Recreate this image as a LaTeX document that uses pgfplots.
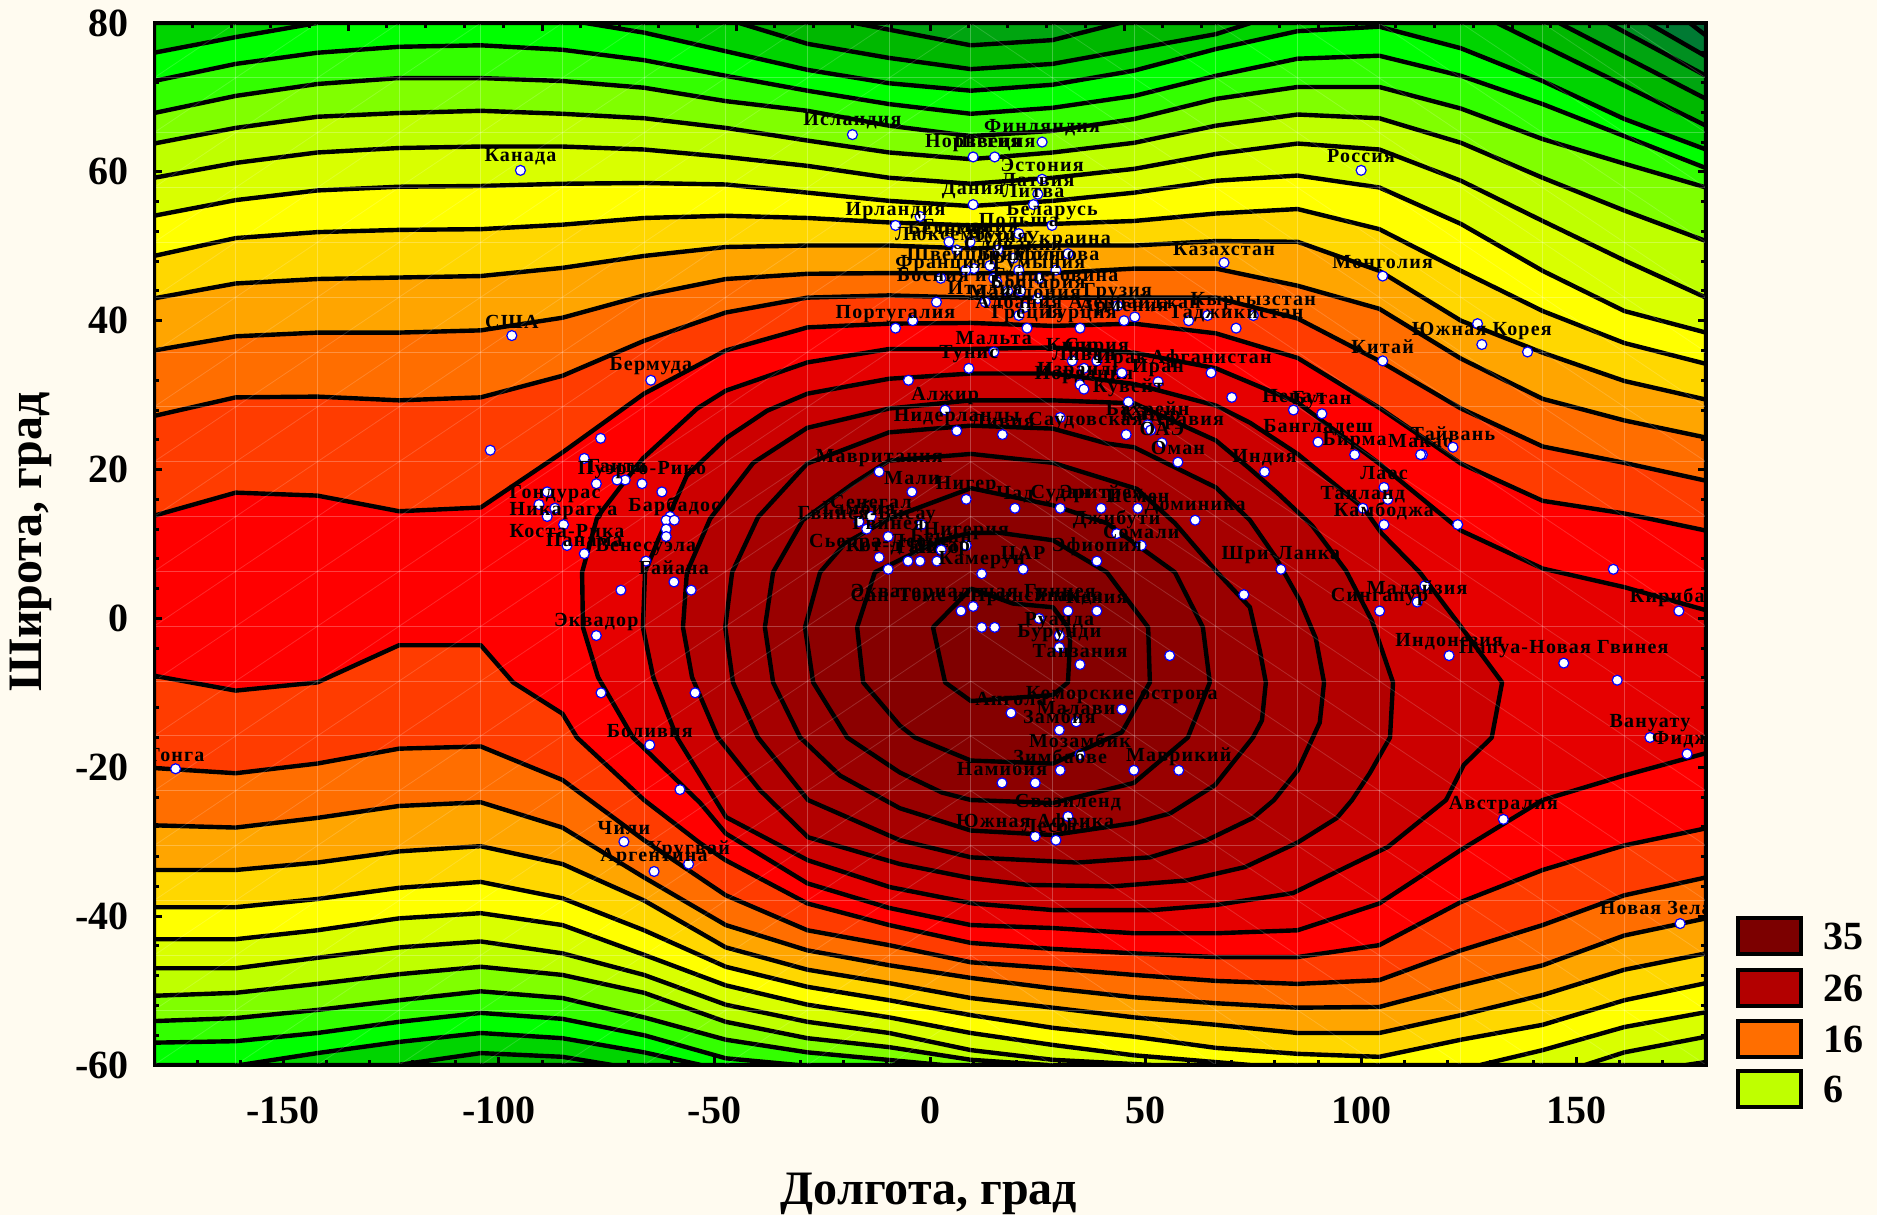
\documentclass[border=0pt]{standalone}
\usepackage{fontspec}
\usepackage{pgfplots}
\pgfplotsset{compat=1.18}
\setmainfont{Liberation Serif}
\newfontfamily\labfont[LetterSpace=6]{Liberation Serif}
\definecolor{pg}{HTML}{FFFBF0}
\definecolor{c00}{HTML}{006633}\definecolor{c01}{HTML}{007A33}\definecolor{c02}{HTML}{008F20}
\definecolor{c03}{HTML}{00A510}\definecolor{c04}{HTML}{00B800}\definecolor{c05}{HTML}{00D400}
\definecolor{c06}{HTML}{00FF00}\definecolor{c07}{HTML}{33FF00}\definecolor{c08}{HTML}{80FF00}
\definecolor{c09}{HTML}{BFFF00}\definecolor{c10}{HTML}{D9FF00}\definecolor{c11}{HTML}{FFFF00}
\definecolor{c12}{HTML}{FFD700}\definecolor{c13}{HTML}{FFA500}\definecolor{c14}{HTML}{FF6E00}
\definecolor{c15}{HTML}{FF3C00}\definecolor{c16}{HTML}{FF0000}\definecolor{c17}{HTML}{E60000}
\definecolor{c18}{HTML}{CC0000}\definecolor{c19}{HTML}{B30000}\definecolor{c20}{HTML}{A60000}
\definecolor{c21}{HTML}{990000}\definecolor{c22}{HTML}{8C0000}\definecolor{c23}{HTML}{850000}
\definecolor{c24}{HTML}{800000}
\pgfplotsset{band/.style={fill=#1,draw=black,line width=2.2pt,line join=round,forget plot,mark=none}}
\begin{document}
\begin{tikzpicture}
\path[use as bounding box,fill=pg] (0,0) rectangle (938.5pt,607.5pt);
\begin{axis}[
 at={(77pt,75pt)},anchor=south west,scale only axis,width=776pt,height=521pt,
 xmin=-180,xmax=180,ymin=-60,ymax=80,
 axis on top,axis line style={line width=1.5pt},
 tick align=inside,
 major tick length=4pt,minor tick length=2.4pt,
 every tick/.style={black,line width=1.5pt},
 xtick pos=bottom,
 xtick={-150,-100,-50,0,50,100,150},xticklabels={-150,-100,-50,0,50,100,150},
 minor xtick={-170,-160,-140,-130,-120,-110,-90,-80,-70,-60,-40,-30,-20,-10,10,20,30,40,60,70,80,90,110,120,130,140,160,170},
 ytick={-60,-40,-20,0,20,40,60,80},yticklabels={-60,-40,-20,0,20,40,60,80},
 minor ytick={-56,-52,-48,-44,-36,-32,-28,-24,-16,-12,-8,-4,4,8,12,16,24,28,32,36,44,48,52,56,64,68,72,76},
 ticklabel style={font=\fontsize{20}{20}\selectfont\bfseries},
 xticklabel style={yshift=-12.5pt},yticklabel style={xshift=-9pt},
 clip marker paths=true,
]
\addplot[band=c00] coordinates {(-180,-60)(-180,80)(180,80)(180,-60)} --cycle;
\addplot[band=c01] coordinates {(-180,-60)(-180,80)(176.2,80)(180,78.3)(180,-60)} --cycle;
\addplot[band=c02] coordinates {(-180,-60)(-180,80)(166.5,80)(180,75.5)(180,-60)} --cycle;
\addplot[band=c03] coordinates {(-180,-60)(-180,80)(157.2,80)(180,72.9)(180,-60)} --cycle;
\addplot[band=c04] coordinates {(-180,-60)(-180,80)(-17.6,80)(9.47,77.0)(28.42,77.7)(44.1,80)(145.9,80)(180,69.8)(180,-60)} --cycle;
\addplot[band=c05] coordinates {(-180,-60)(-180,80)(-44.3,80)(-28.42,77.2)(-9.47,75.3)(9.47,73.8)(28.42,74.5)(47.37,76.5)(66.32,78.5)(74.4,80)(131.5,80)(180,66.2)(180,-60)(-73.7,-60)(-85.26,-58.9)(-104.21,-58.4)(-123.4,-60)} --cycle;
% A
\addplot[band=c06] coordinates {(-180,76.0)(-161.05,78.1)(-142.11,80)(-80,80)(-66.32,78.7)(-47.37,76.2)(-28.42,73.7)(-9.47,71.9)(9.47,70.9)(28.42,71.7)(47.37,73.6)(66.32,76.5)(85.26,78.9)(104.21,79.5)(123.16,76.6)(142.11,72.2)(161.05,67.1)(180,63.0)(180,-60)(-53.1,-60)(-66.32,-58.3)(-85.26,-56.4)(-104.21,-55.7)(-123.16,-56.9)(-142.11,-58.4)(-160,-60)(-180,-60)} --cycle;
% B
\addplot[band=c07] coordinates {(-180,72.2)(-161.05,74.5)(-142.11,76.0)(-123.16,76.8)(-104.21,77.0)(-85.26,76.4)(-66.32,75.0)(-47.37,72.9)(-28.42,70.9)(-9.47,69.1)(9.47,67.8)(28.42,68.6)(47.37,70.2)(66.32,72.9)(85.26,75.2)(104.21,75.6)(123.16,72.9)(142.11,69.1)(161.05,64.8)(180,60.5)(180,-60)(-30.6,-60)(-47.37,-59.1)(-66.32,-56.0)(-85.26,-53.8)(-104.21,-53.0)(-123.16,-54.2)(-142.11,-55.7)(-161.05,-56.8)(-180,-57.0)} --cycle;
% C
\addplot[band=c08] coordinates {(-180,67.9)(-161.05,70.2)(-142.11,71.8)(-123.16,72.6)(-104.21,72.6)(-85.26,72.2)(-66.32,71.3)(-47.37,69.5)(-28.42,68.2)(-9.47,66.2)(9.47,64.8)(28.42,65.5)(47.37,67.1)(66.32,69.8)(85.26,71.4)(104.21,71.4)(123.16,68.5)(142.11,64.4)(161.05,61.1)(180,57.9)(180,-60)(3,-60)(-28.42,-58.3)(-47.37,-56.6)(-66.32,-53.6)(-85.26,-51.0)(-104.21,-50.1)(-123.16,-51.3)(-142.11,-52.6)(-161.05,-53.7)(-180,-54.1)} --cycle;
% D
\addplot[band=c09] coordinates {(-180,63.8)(-161.05,65.9)(-142.11,67.4)(-123.16,67.9)(-104.21,68.2)(-85.26,67.8)(-66.32,67.2)(-47.37,65.9)(-28.42,64.2)(-9.47,62.6)(9.47,61.7)(28.42,62.6)(47.37,63.9)(66.32,66.2)(85.26,67.7)(104.21,67.2)(123.16,63.9)(142.11,59.2)(161.05,54.8)(180,50.7)(180,-59.6)(175.3,-60)(27.4,-60)(9.47,-59.3)(-9.47,-57.6)(-28.42,-56.4)(-47.37,-54.2)(-66.32,-50.3)(-85.26,-47.9)(-104.21,-46.8)(-123.16,-47.8)(-142.11,-49.1)(-161.05,-50.3)(-180,-50.7)} --cycle;
% E
\addplot[band=c10] coordinates {(-180,59.2)(-161.05,61.2)(-142.11,62.6)(-123.16,63.2)(-104.21,63.4)(-85.26,63.4)(-66.32,63.0)(-47.37,62.0)(-28.42,60.8)(-9.47,59.2)(9.47,58.4)(28.42,59.2)(47.37,60.4)(66.32,62.4)(85.26,63.8)(104.21,63.0)(123.16,58.8)(142.11,53.4)(161.05,48.1)(180,43.1)(180,-56.2)(161.05,-58.3)(151.9,-60)(51.5,-60)(28.42,-59.3)(9.47,-58.0)(-9.47,-55.7)(-28.42,-54.2)(-47.37,-51.9)(-66.32,-47.9)(-85.26,-45.0)(-104.21,-43.4)(-123.16,-44.2)(-142.11,-45.6)(-161.05,-47.0)(-180,-47.0)} --cycle;
% F
\addplot[band=c11] coordinates {(-180,54.1)(-161.05,56.2)(-142.11,57.5)(-123.16,58.0)(-104.21,58.1)(-85.26,58.4)(-66.32,58.5)(-47.37,58.3)(-28.42,57.2)(-9.47,56.1)(9.47,55.4)(28.42,56.1)(47.37,57.2)(66.32,58.8)(85.26,59.5)(104.21,57.9)(123.16,53.0)(142.11,46.7)(161.05,41.3)(180,38.4)(180,-52.9)(161.05,-54.9)(142.11,-58.0)(127.6,-60)(74.4,-60)(47.37,-58.7)(28.42,-57.3)(9.47,-55.7)(-9.47,-53.6)(-28.42,-51.9)(-47.37,-49.3)(-66.32,-45.2)(-85.26,-41.2)(-104.21,-39.6)(-123.16,-40.3)(-142.11,-41.9)(-161.05,-43.1)(-180,-43.1)} --cycle;
% G
\addplot[band=c12] coordinates {(-180,48.7)(-161.05,51.1)(-142.11,51.9)(-123.16,52.2)(-104.21,52.3)(-85.26,52.9)(-66.32,53.8)(-47.37,54.1)(-28.42,53.8)(-9.47,53.2)(9.47,52.8)(28.42,53.0)(47.37,53.4)(66.32,54.4)(85.26,55.0)(104.21,52.3)(123.16,46.7)(142.11,41.3)(161.05,37.0)(180,34.2)(180,-49.0)(161.05,-51.3)(142.11,-54.6)(123.16,-56.6)(104.21,-58.9)(85.26,-58.5)(66.32,-57.7)(47.37,-56.2)(28.42,-55.0)(9.47,-53.3)(-9.47,-51.3)(-28.42,-49.5)(-47.37,-46.8)(-66.32,-41.9)(-85.26,-37.6)(-104.21,-35.4)(-123.16,-36.2)(-142.11,-37.7)(-161.05,-38.8)(-180,-38.8)} --cycle;
% H
\addplot[band=c13] coordinates {(-180,43.0)(-161.05,45.0)(-142.11,45.6)(-123.16,45.8)(-104.21,46.0)(-85.26,47.1)(-66.32,48.7)(-47.37,49.9)(-28.42,50.1)(-9.47,50.1)(9.47,49.7)(28.42,50.1)(47.37,50.1)(66.32,50.7)(85.26,50.6)(104.21,46.7)(123.16,40.0)(142.11,35.7)(161.05,31.9)(180,29.4)(180,-45.0)(161.05,-47.2)(142.11,-50.6)(123.16,-53.3)(104.21,-55.7)(85.26,-55.7)(66.32,-54.6)(47.37,-53.6)(28.42,-52.3)(9.47,-51.0)(-9.47,-49.0)(-28.42,-47.2)(-47.37,-44.2)(-66.32,-37.9)(-85.26,-33.0)(-104.21,-30.6)(-123.16,-31.3)(-142.11,-32.8)(-161.05,-33.8)(-180,-33.8)} --cycle;
% I
\addplot[band=c14] coordinates {(-180,36.0)(-161.05,37.9)(-142.11,38.4)(-123.16,38.4)(-104.21,38.7)(-85.26,40.4)(-66.32,43.4)(-47.37,45.6)(-28.42,46.3)(-9.47,46.4)(9.47,46.4)(28.42,46.4)(47.37,47.0)(66.32,47.0)(85.26,44.7)(104.21,41.6)(123.16,34.9)(142.11,29.5)(161.05,26.6)(180,24.3)(180,-40.3)(161.05,-42.6)(142.11,-46.6)(123.16,-49.3)(104.21,-52.2)(85.26,-52.3)(66.32,-51.7)(47.37,-50.9)(28.42,-49.7)(9.47,-48.3)(-9.47,-46.6)(-28.42,-44.6)(-47.37,-41.2)(-66.32,-34.8)(-85.26,-28.1)(-104.21,-24.7)(-123.16,-25.2)(-142.11,-26.8)(-161.05,-28.1)(-180,-27.8)} --cycle;
% J
\addplot[band=c15] coordinates {(-180,27.2)(-161.05,29.7)(-142.11,29.8)(-123.16,29.3)(-104.21,29.7)(-85.26,32.6)(-66.32,37.3)(-47.37,41.1)(-28.42,43.1)(-9.47,43.4)(9.47,43.1)(28.42,43.1)(47.37,43.1)(66.32,43.1)(85.26,40.3)(104.21,34.6)(123.16,28.2)(142.11,23.1)(161.05,20.9)(180,18.5)(180,-34.8)(161.05,-37.2)(142.11,-41.2)(123.16,-44.6)(104.21,-48.6)(85.26,-49.1)(66.32,-48.7)(47.37,-47.9)(28.42,-47.0)(9.47,-46.2)(-9.47,-43.9)(-28.42,-41.9)(-47.37,-37.2)(-66.32,-29.8)(-85.26,-21.7)(-104.21,-17.2)(-123.16,-17.5)(-142.11,-19.5)(-161.05,-20.8)(-180,-20.1)} --cycle;
% K
\addplot[band=c16] coordinates {(-180,13.8)(-161.05,16.9)(-142.11,16.5)(-123.16,14.4)(-104.21,14.9)(-85.26,22.3)(-66.32,30.2)(-47.37,36.0)(-28.42,39.1)(-9.47,39.6)(9.47,39.7)(28.42,39.3)(47.37,39.6)(66.32,38.3)(85.26,35.0)(104.21,28.3)(123.16,20.8)(142.11,15.8)(161.05,14.1)(180,11.8)(180,-28.2)(161.05,-30.5)(142.11,-33.8)(123.16,-38.1)(104.21,-43.9)(85.26,-45.5)(66.32,-45.5)(47.37,-45.0)(28.42,-44.4)(9.47,-43.6)(-9.47,-41.2)(-28.42,-38.3)(-47.37,-32.5)(-53.3,-30.2)(-66.32,-24.4)(-81.9,-16.0)(-85.26,-12.8)(-96.7,-8.6)(-104.21,-3.6)(-123.16,-3.6)(-142.11,-8.6)(-161.05,-9.7)(-180,-7.7)} --cycle;
% K2
\addplot[band=c17] coordinates {(-68.9,-16.0)(-77.0,-7.9)(-80.5,-1.2)(-80.7,6.2)(-77.2,13.6)(-70.7,18.5)(-66.6,21.5)(-54.0,28.2)(-47.37,30.6)(-28.42,34.4)(-9.47,36.2)(9.47,36.2)(28.42,36.4)(47.37,35.7)(66.32,33.6)(85.26,29.0)(104.21,20.8)(123.16,11.8)(142.11,6.7)(161.05,4.2)(180,1.1)(180,-18.1)(161.05,-21.1)(142.11,-24.4)(123.16,-31.1)(104.21,-38.3)(85.26,-41.9)(66.32,-42.3)(47.37,-42.3)(28.42,-41.6)(9.47,-41.2)(-9.47,-38.9)(-28.42,-35.6)(-47.37,-28.9)(-53.3,-24.8)} --cycle;
% K3
\addplot[band=c18] coordinates {(-58.7,-16.0)(-64.2,-7.9)(-66.6,-1.2)(-66.1,6.2)(-63.1,10.5)(-56.4,19.2)(-47.1,24.3)(-37.8,27.9)(-28.42,30.2)(-9.47,32.2)(9.47,32.9)(28.42,32.9)(47.37,31.5)(66.32,28.6)(74.2,26.3)(85.26,22.1)(100.6,14.8)(104.8,11.4)(113.6,6.2)(123.4,-1.3)(132.7,-8.6)(130.3,-16.0)(123.8,-19.7)(119.7,-24.4)(106.2,-30.7)(84.2,-36.9)(66.3,-38.5)(51.5,-39.2)(28.8,-39.2)(10.0,-38.3)(-9.3,-36.1)(-28.3,-32.5)(-47.3,-26.7)} --cycle;
% K4
\addplot[band=c19] coordinates {(-49.2,-16.0)(-55.2,-7.9)(-57.3,-1.2)(-56.4,6.2)(-51.0,13.4)(-41.0,20.9)(-28.5,25.6)(-9.47,28.2)(9.47,29.3)(28.42,29.3)(47.37,28.9)(66.32,23.9)(74.2,20.1)(80.7,16.8)(88.6,12.5)(96.5,6.4)(102.5,-0.3)(107.4,-8.6)(106.7,-16.0)(102.0,-20.8)(97.9,-24.4)(94.4,-26.8)(85.3,-30.1)(73.1,-33.4)(59.6,-35.2)(42.4,-36.0)(22.7,-35.8)(9.5,-34.9)(-7.0,-33.0)(-28.3,-29.4)(-39.4,-23.1)} --cycle;
% K5
\addplot[band=c20] coordinates {(-39.9,-16.0)(-45.7,-8.6)(-47.5,-1.2)(-45.9,6.2)(-39.9,13.6)(-28.5,20.8)(-9.5,25.0)(9.5,25.9)(28.5,25.5)(41.0,23.5)(47.3,23.0)(66.3,17.6)(74.2,13.2)(80.2,8.2)(85.8,2.4)(89.5,-2.7)(91.4,-8.6)(90.4,-14.0)(85.3,-20.4)(79.8,-24.4)(74.9,-26.8)(64.2,-29.8)(51.0,-32.1)(34.3,-32.8)(9.5,-32.1)(-7.0,-29.8)(-28.3,-24.4)} --cycle;
% K6
\addplot[band=c21] coordinates {(-30.1,-16.0)(-36.4,-8.6)(-38.3,-1.2)(-36.4,6.2)(-29.5,13.2)(-17.9,18.1)(-9.5,21.2)(9.5,22.1)(28.5,20.9)(48.0,17.4)(56.8,12.8)(66.6,6.2)(74.2,1.5)(76.5,-4.3)(77.9,-8.6)(77.0,-13.7)(74.9,-16.0)(66.1,-22.4)(55.7,-26.2)(47.3,-27.5)(28.5,-29.1)(9.5,-28.5)(-7.0,-25.5)(-20.9,-21.1)} --cycle;
% K7
\addplot[band=c22] coordinates {(-19.2,-16.0)(-27.1,-8.6)(-29.0,-1.2)(-25.5,6.2)(-19.7,10.1)(-9.5,13.4)(9.5,17.5)(28.5,15.2)(41.0,12.8)(56.8,6.2)(63.3,-1.2)(64.9,-8.6)(59.8,-16.0)(47.3,-22.1)(28.5,-24.8)(9.5,-24.4)(2.8,-23.4)(-7.0,-20.7)} --cycle;
% K8
\addplot[band=c23] coordinates {(-7.0,-14.4)(-15.5,-8.6)(-16.9,-1.2)(-12.8,6.2)(2.3,10.5)(9.5,11.5)(16.2,11.5)(28.5,10.5)(41.0,6.2)(50.6,-1.2)(51.0,-8.6)(44.5,-15.3)(28.5,-19.5)(9.5,-19.1)(-3.5,-16.0)} --cycle;
% K9
\addplot[band=c24] coordinates {(9.5,4.0)(19.2,2.0)(28.5,1.5)(32.0,-1.2)(32.5,-3.0)(32.0,-8.6)(28.5,-10.3)(9.5,-11.1)(3.5,-8.6)(0.7,-1.2)} --cycle;
% the faint mesh of the surface
\pgfplotsinvokeforeach{0,...,19}{
 \draw[white,opacity=.25,line width=.5pt] (axis cs:{-180+18.947*#1},-60) -- (axis cs:{-180+18.947*#1},80);
 \draw[white,opacity=.25,line width=.5pt] (axis cs:-180,{-60+7.368*#1}) -- (axis cs:180,{-60+7.368*#1});
}
\pgfplotsinvokeforeach{-10,...,19}{
 \draw[white,opacity=.16,line width=.4pt] (axis cs:-180,{-60+7.368*#1}) -- (axis cs:9.47,{-60+7.368*(#1+10)});
}
\pgfplotsinvokeforeach{0,...,28}{
 \draw[white,opacity=.16,line width=.4pt] (axis cs:9.47,{-60+7.368*#1}) -- (axis cs:180,{-60+7.368*(#1-9)});
}
% points with no visible name
\addplot[only marks,mark=*,mark size=2.5pt,mark options={fill=white,draw=blue,line width=.6pt},forget plot] coordinates {
(-102,22.6)(-76.4,24.2)(-80.2,21.5)(-77.4,18.1)(-70.7,18.6)(-62.2,17)(-88.8,17)(-90.7,15.3)(-88.8,13.7)(-60.3,13.7)(-61.2,13.2)(-61.2,12)(-61.2,11)(-55.4,3.8)(-71.7,3.8)(-76.3,-10)(-54.5,-10)(-58,-23)
(-5,32)(-4,40)(-2.3,54)(1.5,42.5)(10.2,47)(13.9,47.4)(14.8,45.7)(15.5,45.2)(21,44)(30.2,27)(-9.7,6.6)(-2,12.6)(47.3,-20.4)(24.4,-22.1)(55.6,-5)(72.8,3.2)(70,29.7)(64.4,40.7)(60,40)(127,39.6)(138.6,35.8)(114.2,22)(106.2,16)(122.4,12.6)(114.8,4.4)(159.4,-8.3)(158.5,6.6)(25.3,0)(12,-1.2)(15,-1.2)};
% named points
\addplot[only marks,mark=*,mark size=2.5pt,mark options={fill=white,draw=blue,line width=.6pt},
 point meta=explicit symbolic,nodes near coords,nodes near coords align=center,
 every node near coord/.append style={yshift=7pt,inner sep=0pt,text=black,font=\fontsize{10}{10}\labfont\bfseries},forget plot] coordinates {
(-95,60.2)[Канада](-97,38)[США](-64.75,32)[Бермуда](-72.6,18.6)[Гаити](-66.8,18.1)[Пуэрто-Рико](-87,14.8)[Гондурас](-85,12.6)[Никарагуа](-84.2,9.8)[Коста-Рика](-80.2,8.7)[Панама](-59.3,13.2)[Барбадос](-65.9,7.7)[Венесуэла](-59.4,4.9)[Гайана](-77.4,-2.3)[Эквадор](-65,-17)[Боливия](-71,-30)[Чили](-56,-33)[Уругвай](-64,-34)[Аргентина](-175,-20.2)[Тонга]
(-18,65)[Исландия](26,64)[Финляндия](10,62)[Норвегия](15,62)[Швеция](26,59)[Эстония](25,57)[Латвия](24,55.6)[Литва](10,55.6)[Дания](28.3,52.8)[Беларусь](-8,52.8)[Ирландия](9.3,50.6)[Германия](6.2,49.5)[Люксембург](4.4,50.6)[Бельгия](20.6,51.7)[Польша](15.8,49.5)[Чехия](19.3,48.4)[Словакия](32,49)[Украина](29.2,46.8)[Молдова](8.3,46.8)[Швейцария](20.6,46.8)[Венгрия](25.3,45.7)[Румыния](2.5,45.7)[Франция](18,44)[Босния и Герцеговина](12.8,42.5)[Италия](25,43)[Болгария](22,41.8)[Македония](20.6,40.7)[Албания](-8,39)[Португалия](22.5,39)[Греция](34.8,39)[Турция](43.5,42)[Грузия](47.5,40.5)[Азербайджан](45,40)[Армения]
(14.8,35.8)[Мальта](9,33.6)[Тунис](3.5,28)[Алжир](6.2,25.2)[Нидерланды](16.8,24.7)[Ливия](33,34.6)[Кипр](38.7,34.6)[Сирия](35.7,33.6)[Ливан](34.8,31.4)[Израиль](35.7,30.8)[Иордания](44.5,33)[Ирак](52.9,31.8)[Иран](46,29.1)[Кувейт](65.2,33)[Афганистан](45.5,24.7)[Саудовская Аравия](50.5,26)[Бахрейн](51.2,25.3)[Катар](53.8,23.6)[ОАЭ](57.5,21)[Оман]
(68.2,47.8)[Казахстан](75,40.7)[Кыргызстан](71,39)[Таджикистан](100,60.2)[Россия](105,46)[Монголия](128,36.8)[Южная Корея](105,34.6)[Китай](84.3,28)[Непал](90.9,27.5)[Бутан](90,23.7)[Бангладеш](98.5,22)[Бирма](113.8,22)[Макао](121.3,23)[Тайвань](77.6,19.7)[Индия](105.3,17.6)[Лаос](100.4,14.8)[Таиланд](105.3,12.6)[Камбоджа](81.4,6.6)[Шри-Ланка](113,2.2)[Малайзия](104.3,1)[Сингапур](120.4,-5)[Индонезия](147,-6)[Папуа-Новая Гвинея](173.7,1)[Кирибати](167,-16)[Вануату](175.6,-18.2)[Фиджи](133,-27)[Австралия](174,-41)[Новая Зеландия]
(-11.8,19.7)[Мавритания](-4.2,17)[Мали](8.4,16)[Нигер](19.7,14.8)[Чад](30.2,14.8)[Судан](39.7,14.8)[Эритрея](48.2,14.8)[Йемен](61.5,13.2)[Доминика](43.3,11.4)[Джибути](49,9.8)[Сомали](38.7,7.7)[Эфиопия](-13.7,13.7)[Сенегал](-16.5,13)[Гамбия](-14.7,12)[Гвинея-Бисау](-9.7,11)[Гвинея](8.4,9.8)[Нигерия](-11.8,8.2)[Сьерра-Леоне](-5.1,7.7)[Кот-д'Ивуар](-2.3,7.7)[Гана](1.6,7.7)[Того](2.6,9.2)[Бенин](12,6)[Камерун](21.6,6.6)[ЦАР](10,1.6)[Экваториальная Гвинея](7.2,1)[Сан-Томе и Принсипи](32,1)[Уганда](38.7,1)[Кения](30,-2.3)[Руанда](30,-3.9)[Бурунди](34.8,-6.2)[Танзания](18.8,-12.7)[Ангола](44.5,-12.2)[Коморские острова](33.9,-13.9)[Малави](30,-15)[Замбия](34.8,-18.3)[Мозамбик](30.2,-20.4)[Зимбабве](57.7,-20.4)[Маврикий](16.7,-22.1)[Намибия](32,-26.6)[Свазиленд](24.4,-29.3)[Южная Африка](29.2,-29.8)[Лесото]
};
\end{axis}
% the ticks of the top side, which run in steps of 9
\begin{axis}[
 at={(77pt,75pt)},anchor=south west,scale only axis,width=776pt,height=521pt,
 xmin=-180,xmax=180,ymin=-60,ymax=80,ytick=\empty,
 axis line style={draw=none},tick align=inside,xtick pos=top,
 major tick length=4pt,minor tick length=2.4pt,
 every tick/.style={black,line width=1.5pt},
 xtick={-135,-90,-45,0,45,90,135},xticklabels={},
 minor xtick={-171,-162,-153,-144,-126,-117,-108,-99,-81,-72,-63,-54,-36,-27,-18,-9,9,18,27,36,54,63,72,81,99,108,117,126,144,153,162,171},
]
\end{axis}
\node[rotate=90,font=\fontsize{24}{24}\selectfont\bfseries] at (15.5pt,336.5pt) {Широта, град};
\node[font=\fontsize{24}{24}\selectfont\bfseries] at (464.5pt,10.5pt) {Долгота, град};
\draw[line width=2.25pt,fill=c24!97!black] (869pt,130.5pt) rectangle +(31.5pt,18pt);
\draw[line width=2.25pt,fill=c19] (869pt,104.5pt) rectangle +(31.5pt,18pt);
\draw[line width=2.25pt,fill=c14] (869pt,79pt) rectangle +(31.5pt,18pt);
\draw[line width=2.25pt,fill=c09] (869pt,54pt) rectangle +(31.5pt,18pt);
\node[anchor=west,inner sep=0pt,font=\fontsize{20}{20}\selectfont\bfseries] at (911.5pt,139.5pt) {35};
\node[anchor=west,inner sep=0pt,font=\fontsize{20}{20}\selectfont\bfseries] at (911.5pt,113.5pt) {26};
\node[anchor=west,inner sep=0pt,font=\fontsize{20}{20}\selectfont\bfseries] at (911.5pt,88pt) {16};
\node[anchor=west,inner sep=0pt,font=\fontsize{20}{20}\selectfont\bfseries] at (911.5pt,63pt) {6};
\end{tikzpicture}
\end{document}
